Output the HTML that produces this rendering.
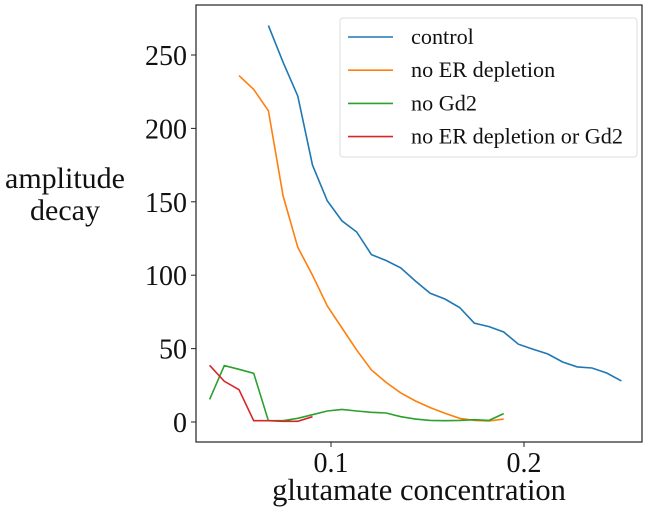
<!DOCTYPE html>
<html><head><meta charset="utf-8"><style>
body{margin:0;background:#fff}
svg{display:block;font-family:"Liberation Serif",serif}
</style></head><body>
<svg id="chart" width="649" height="513" viewBox="0 0 649 513" xmlns="http://www.w3.org/2000/svg"></svg>
<script>
const xStart = 0.0371;
const xStep = 0.00762;
const controlValues = [270,245,222,175,150.6,137,129.4,114,110,105,96,87.7,83.8,78,67.4,65,61.3,53,49.5,46.3,40.9,37.5,36.8,33.4,28];
const controlStartIndex = 4;
const noERValues = [236,226.6,212,154,119,100,79,64,49,35.4,27,19.8,14.3,9.8,5.9,2.5,1.1,0.7,2];
const noERStartIndex = 2;
const noGd2Values = [15.4,38.4,35.9,33.2,0.9,0.9,2.5,5,7.5,8.6,7.5,6.6,6.1,3.6,2,1.1,0.9,1.1,1.6,1.1,5.7];
const noBothValues = [38.6,27.7,22,0.9,0.9,0.5,0.5,3.6];
const xTicks = [0.1,0.2];
const xTickLabels = ["0.1","0.2"];
const yTicks = [0,50,100,150,200,250];
const seriesNames = ["control","no ER depletion","no Gd2","no ER depletion or Gd2"];

const NS="http://www.w3.org/2000/svg";
const svg=document.getElementById('chart');
const L=196,R=642,T=5,B=442;
function xs(v){return 331+(v-0.1)*1930;}
function ys(v){return 422-v*(367/250);}
function mk(tag,attrs,parent){const e=document.createElementNS(NS,tag);for(const k in attrs)e.setAttribute(k,attrs[k]);(parent||svg).appendChild(e);return e;}

const frame=mk('rect',{x:L,y:T,width:R-L,height:B-T,fill:'none',stroke:'#222','stroke-width':1.2});



xTicks.forEach((t,i)=>{
  const tk=mk('line',{x1:xs(t),x2:xs(t),y1:B,y2:B+5,stroke:'#222'});
  
  
  const tx=mk('text',{x:xs(t),y:B+30,'font-size':28,'text-anchor':'middle',fill:'#111'});
  tx.textContent=xTickLabels[i];
  
  
});
yTicks.forEach(t=>{
  const tk=mk('line',{x1:L-5,x2:L,y1:ys(t),y2:ys(t),stroke:'#222'});
  
  
  const tx=mk('text',{x:L-9,y:ys(t)+10,'font-size':28,'text-anchor':'end',fill:'#111'});
  tx.textContent=String(t);
  
  
});

const colors=['#1f77b4','#ff7f0e','#2ca02c','#d62728'];
const series=[[controlValues,controlStartIndex],[noERValues,noERStartIndex],[noGd2Values,0],[noBothValues,0]];
series.forEach((s,k)=>{
  const pts=s[0].map((v,i)=>xs(xStart+(s[1]+i)*xStep).toFixed(1)+','+ys(v).toFixed(1)).join(' ');
  const pl=mk('polyline',{points:pts,fill:'none',stroke:colors[k],'stroke-width':1.6});
  
  
});

const lg=mk('g',{});


mk('rect',{x:340,y:18,width:297,height:139,rx:3,fill:'#fff','fill-opacity':0.8,stroke:'#ddd'},lg);
seriesNames.forEach((n,k)=>{
  const y=37+k*33.2;
  const ln=mk('line',{x1:348,x2:393,y1:y,y2:y,stroke:colors[k],'stroke-width':1.6},lg);
  
  
  const t=mk('text',{x:411,y:y+7,'font-size':22.2,fill:'#111'},lg);
  t.textContent=n;
  
  
});

const xl=mk('text',{x:419,y:500,'font-size':30.5,'text-anchor':'middle',fill:'#111'});
xl.textContent='glutamate concentration';


const yl1=mk('text',{x:65,y:188,'font-size':30,'text-anchor':'middle',fill:'#111'});
yl1.textContent='amplitude';


const yl2=mk('text',{x:65,y:220,'font-size':30,'text-anchor':'middle',fill:'#111'});
yl2.textContent='decay';


</script>
</body></html>
